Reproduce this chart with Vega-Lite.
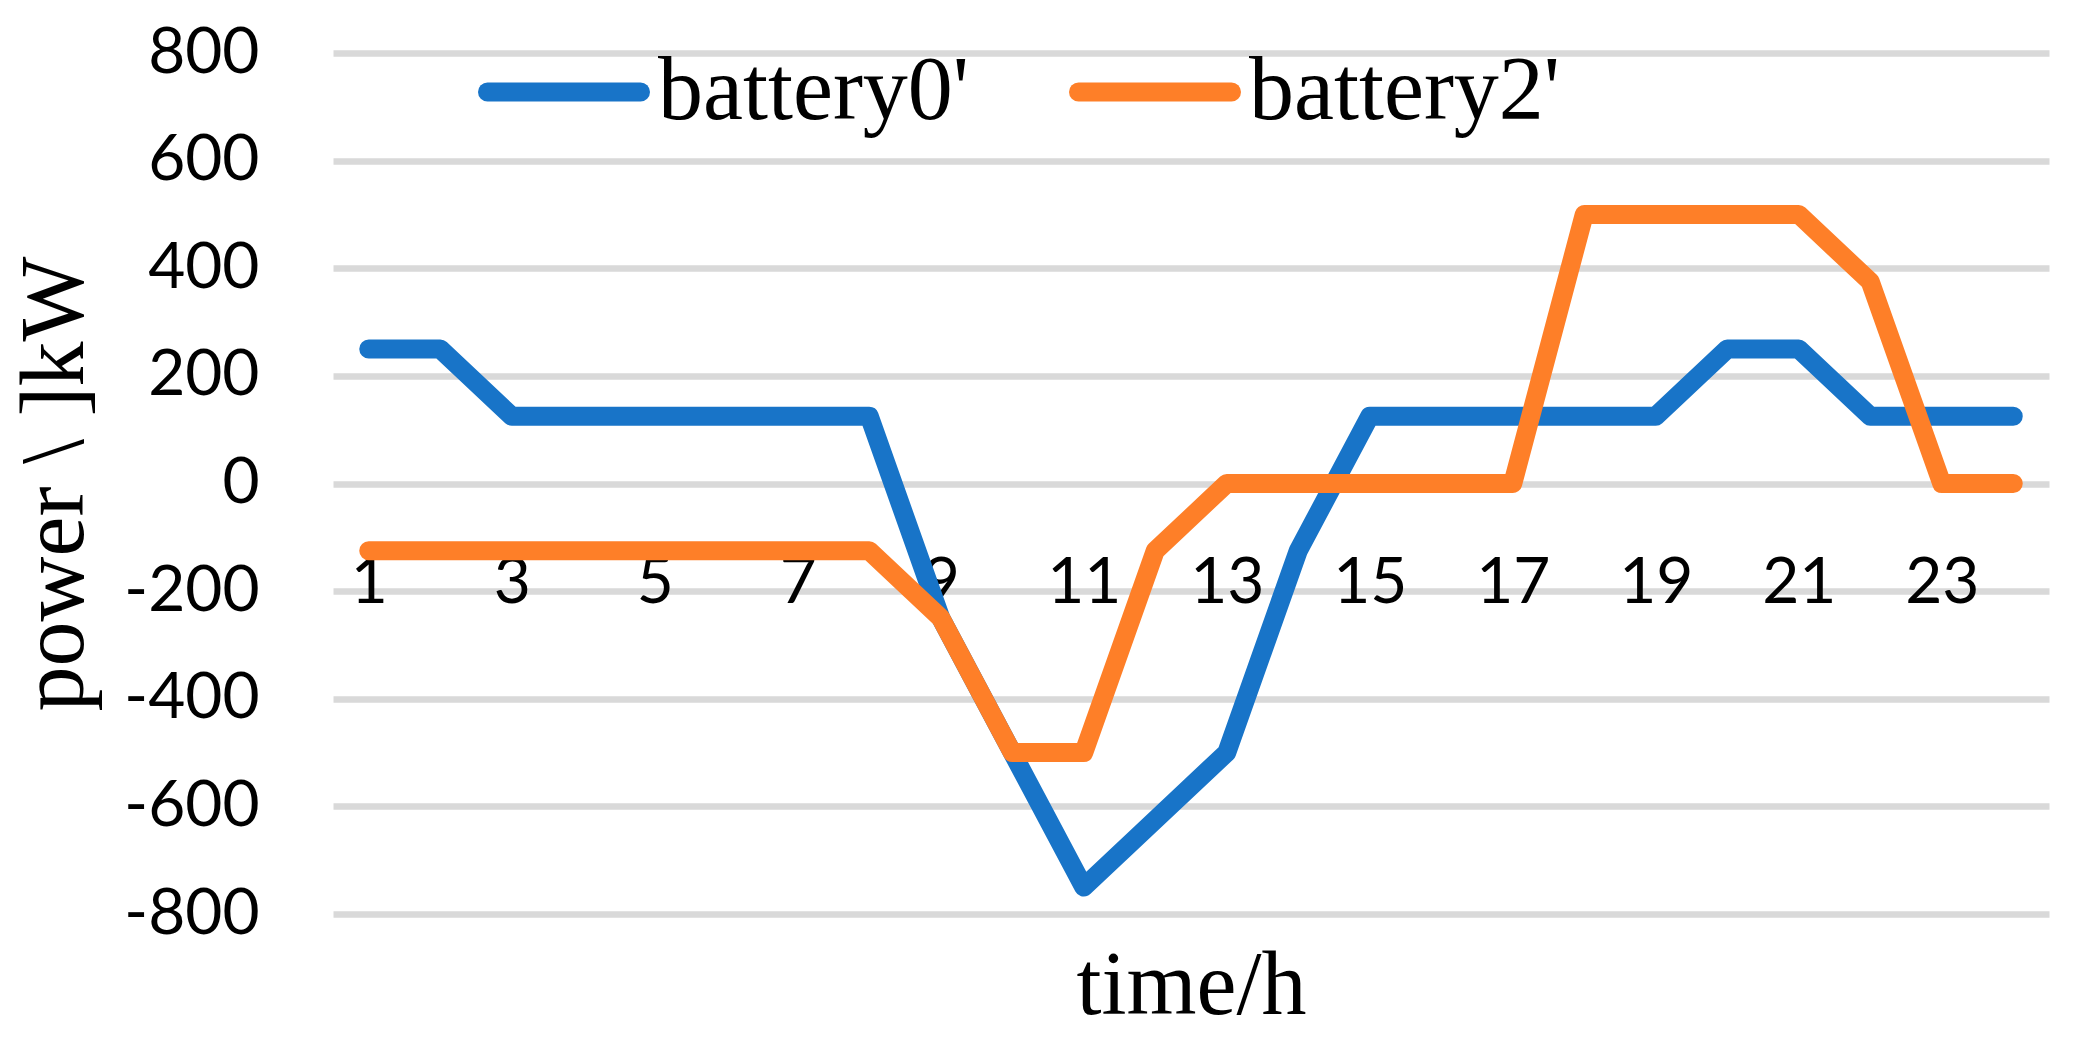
{
  "$schema": "https://vega.github.io/schema/vega-lite/v6.json",
  "width": 1716,
  "height": 861,
  "autosize": "none",
  "padding": {"left": 333, "top": 53, "right": 33, "bottom": 132},
  "background": "white",
  "config": {"view": {"stroke": null}},
  "data": {"values": [
    {"t":1,"series":"battery0'","v":250},{"t":2,"series":"battery0'","v":250},{"t":3,"series":"battery0'","v":125},{"t":4,"series":"battery0'","v":125},
    {"t":5,"series":"battery0'","v":125},{"t":6,"series":"battery0'","v":125},{"t":7,"series":"battery0'","v":125},{"t":8,"series":"battery0'","v":125},
    {"t":9,"series":"battery0'","v":-250},{"t":10,"series":"battery0'","v":-500},{"t":11,"series":"battery0'","v":-750},{"t":12,"series":"battery0'","v":-625},
    {"t":13,"series":"battery0'","v":-500},{"t":14,"series":"battery0'","v":-125},{"t":15,"series":"battery0'","v":125},{"t":16,"series":"battery0'","v":125},
    {"t":17,"series":"battery0'","v":125},{"t":18,"series":"battery0'","v":125},{"t":19,"series":"battery0'","v":125},{"t":20,"series":"battery0'","v":250},
    {"t":21,"series":"battery0'","v":250},{"t":22,"series":"battery0'","v":125},{"t":23,"series":"battery0'","v":125},{"t":24,"series":"battery0'","v":125},
    {"t":1,"series":"battery2'","v":-125},{"t":2,"series":"battery2'","v":-125},{"t":3,"series":"battery2'","v":-125},{"t":4,"series":"battery2'","v":-125},
    {"t":5,"series":"battery2'","v":-125},{"t":6,"series":"battery2'","v":-125},{"t":7,"series":"battery2'","v":-125},{"t":8,"series":"battery2'","v":-125},
    {"t":9,"series":"battery2'","v":-250},{"t":10,"series":"battery2'","v":-500},{"t":11,"series":"battery2'","v":-500},{"t":12,"series":"battery2'","v":-125},
    {"t":13,"series":"battery2'","v":0},{"t":14,"series":"battery2'","v":0},{"t":15,"series":"battery2'","v":0},{"t":16,"series":"battery2'","v":0},
    {"t":17,"series":"battery2'","v":0},{"t":18,"series":"battery2'","v":500},{"t":19,"series":"battery2'","v":500},{"t":20,"series":"battery2'","v":500},
    {"t":21,"series":"battery2'","v":500},{"t":22,"series":"battery2'","v":375},{"t":23,"series":"battery2'","v":0},{"t":24,"series":"battery2'","v":0}
  ]},
  "mark": {"type": "line", "strokeWidth": 19, "strokeCap": "round", "strokeJoin": "round"},
  "encoding": {
    "x": {
      "field": "t", "type": "ordinal",
      "scale": {"type": "point", "padding": 0.5},
      "axis": {
        "values": [1,3,5,7,9,11,13,15,17,19,21,23],
        "offset": -430.5,
        "domain": false, "ticks": false, "tickSize": 0, "grid": false,
        "labelAngle": 0, "labelFont": "Lato", "labelFontSize": 64, "labelColor": "black",
        "labelBaseline": "alphabetic", "labelPadding": 119, "labelOverlap": false, "labelFlush": false,
        "title": "time/h", "titleFont": "Liberation Serif", "titleFontSize": 90, "titleFontWeight": "normal",
        "titleColor": "black", "titleBaseline": "alphabetic", "titleX": 858, "titleY": 529.5, "titleAlign": "center"
      }
    },
    "y": {
      "field": "v", "type": "quantitative",
      "scale": {"domain": [-800, 800], "nice": false, "zero": false},
      "axis": {
        "values": [-800,-600,-400,-200,0,200,400,600,800],
        "labelExpr": "'' + datum.value",
        "domain": false, "ticks": false, "tickSize": 0,
        "grid": true, "gridColor": "#D9D9D9", "gridWidth": 6.5,
        "labelFont": "Lato", "labelFontSize": 64, "labelColor": "black", "labelPadding": 74,
        "title": "power \\ ]kW", "titleFont": "Liberation Serif", "titleFontSize": 90, "titleFontWeight": "normal",
        "titleColor": "black", "titleAngle": -90, "titleBaseline": "alphabetic", "titleAlign": "center",
        "titleX": -251, "titleY": 430.5
      }
    },
    "color": {
      "field": "series", "type": "nominal",
      "scale": {"domain": ["battery0'", "battery2'"], "range": ["#1874C8", "#FE7F28"]},
      "legend": {
        "orient": "none", "legendX": 145, "legendY": -47, "direction": "horizontal",
        "title": null, "padding": 0,
        "symbolType": "stroke", "symbolSize": 23409, "symbolStrokeWidth": 19,
        "labelFont": "Liberation Serif", "labelFontSize": 90, "labelColor": "black",
        "labelOffset": 8, "columnPadding": 70, "labelLimit": 1000,
        "encode": {"symbols": {"update": {"strokeCap": {"value": "round"}}}}
      }
    }
  }
}
